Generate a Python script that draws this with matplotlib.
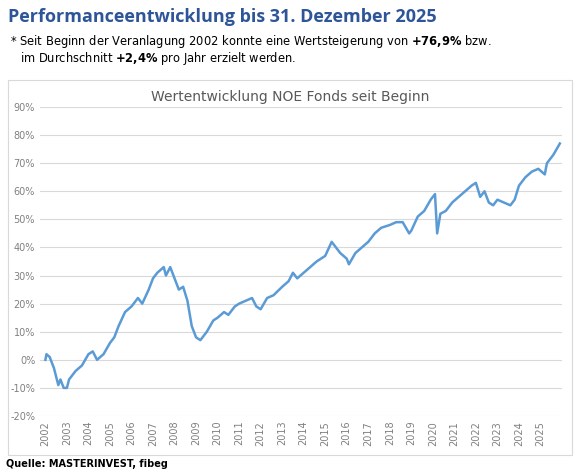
import matplotlib
matplotlib.use("Agg")
import matplotlib.pyplot as plt
from matplotlib.patches import Rectangle

# approximate fund performance (%)
years = [2002.0, 2002.05, 2002.2, 2002.4, 2002.6, 2002.7, 2002.85, 2003.0, 2003.1, 2003.4,
         2003.7, 2004.0, 2004.2, 2004.4, 2004.7, 2005.0, 2005.2, 2005.4, 2005.7, 2006.0,
         2006.3, 2006.5, 2006.8, 2007.0, 2007.2, 2007.5, 2007.6, 2007.8, 2008.0, 2008.2,
         2008.4, 2008.6, 2008.8, 2009.0, 2009.2, 2009.5, 2009.8, 2010.0, 2010.3, 2010.5,
         2010.8, 2011.0, 2011.3, 2011.6, 2011.8, 2012.0, 2012.3, 2012.6, 2013.0, 2013.3,
         2013.5, 2013.7, 2014.0, 2014.3, 2014.6, 2015.0, 2015.3, 2015.5, 2015.7, 2016.0,
         2016.1, 2016.4, 2016.7, 2017.0, 2017.3, 2017.6, 2018.0, 2018.3, 2018.6, 2018.9,
         2019.0, 2019.3, 2019.6, 2019.9, 2020.1, 2020.2, 2020.35, 2020.6, 2020.9, 2021.2,
         2021.5, 2021.8, 2022.0, 2022.2, 2022.4, 2022.6, 2022.8, 2023.0, 2023.3, 2023.6,
         2023.8, 2024.0, 2024.3, 2024.6, 2024.9, 2025.2, 2025.3, 2025.6, 2025.9]
perf = [0, 2, 1, -3, -9, -7, -10, -10, -7, -4,
        -2, 2, 3, 0, 2, 6, 8, 12, 17, 19,
        22, 20, 25, 29, 31, 33, 30, 33, 29, 25,
        26, 21, 12, 8, 7, 10, 14, 15, 17, 16,
        19, 20, 21, 22, 19, 18, 22, 23, 26, 28,
        31, 29, 31, 33, 35, 37, 42, 40, 38, 36,
        34, 38, 40, 42, 45, 47, 48, 49, 49, 45,
        46, 51, 53, 57, 59, 45, 52, 53, 56, 58,
        60, 62, 63, 58, 60, 56, 55, 57, 56, 55,
        57, 62, 65, 67, 68, 66, 70, 73, 77]
year_ticks = list(range(2002, 2026))
pct_ticks = list(range(-20, 100, 10))

W, H = 580, 473
fig = plt.figure(figsize=(W / 100, H / 100), dpi=100)
fig.patch.set_facecolor("white")

fig.text(8 / W, 1 - 17 / H, "Performanceentwicklung bis 31. Dezember 2025", color="#2e5597",
         fontsize=13, fontweight="bold", va="center", family="Open Sans")
fig.text(10 / W, 1 - 41 / H, "* Seit Beginn der Veranlagung 2002 konnte eine Wertsteigerung von $\\bf{+76{,}9\\%}$ bzw.",
         fontsize=8.3, va="center")
fig.text(20 / W, 1 - 58 / H, "im Durchschnitt $\\bf{+2{,}4\\%}$ pro Jahr erzielt werden.",
         fontsize=8.3, va="center")
fig.text(6 / W, 1 - 464 / H, "Quelle: MASTERINVEST, fibeg", fontsize=7, fontweight="bold", va="center")

fig.patches.append(Rectangle((8 / W, 1 - 455 / H), 564 / W, 375 / H, transform=fig.transFigure,
                             fill=False, edgecolor="#d9d9d9", lw=0.8))
fig.text(290 / W, 1 - 97 / H, "Wertentwicklung NOE Fonds seit Beginn", ha="center", va="center",
         fontsize=10, color="#595959")

ax = fig.add_axes([40 / W, 1 - 416 / H, 522 / W, 309 / H])
ax.plot(years, perf, color="#5b9bd5", lw=1.8)
ax.set_xlim(2001.75, 2026.0)
ax.set_ylim(-20, 90)
ax.set_yticks(pct_ticks)
ax.set_yticklabels([f"{v}%" for v in pct_ticks])
ax.set_xticks(year_ticks)
ax.set_xticklabels([str(y) for y in year_ticks], rotation=90)
ax.tick_params(colors="#808080", labelsize=7, length=0)
ax.grid(axis="y", color="#d9d9d9", lw=0.8)
for s in ax.spines.values():
    s.set_visible(False)

fig.savefig("out.png", dpi=100)
